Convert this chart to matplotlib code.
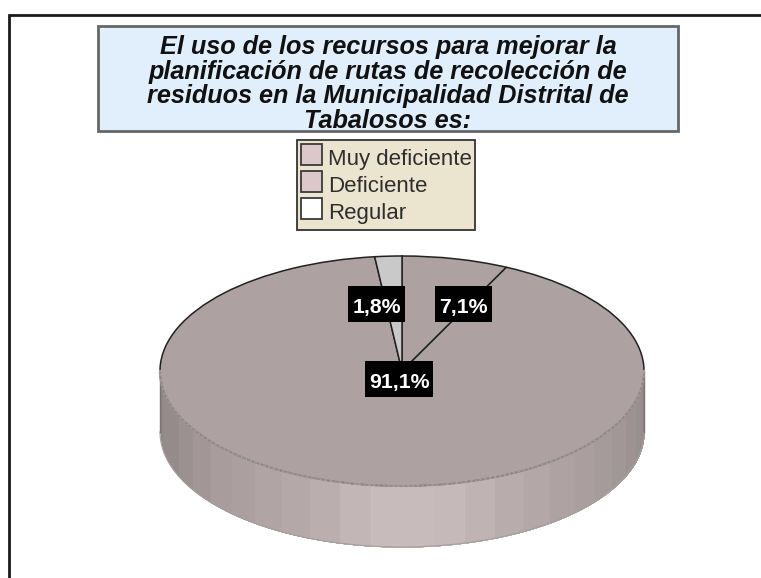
import matplotlib
matplotlib.use("Agg")
import matplotlib.pyplot as plt
from matplotlib.patches import Rectangle
import numpy as np

plt.rcParams['font.family'] = ['Liberation Sans', 'DejaVu Sans']

W, H = 761, 578

title_lines = [
    "El uso de los recursos para mejorar la",
    "planificación de rutas de recolección de",
    "residuos en la Municipalidad Distrital de",
    "Tabalosos es:",
]
categories = ["Muy deficiente", "Deficiente", "Regular"]
values = [7.1, 91.1, 1.8]
pct_labels = ["7,1%", "91,1%", "1,8%"]
slice_colors = ["#ada1a1", "#ada1a1", "#c9c9c9"]
legend_colors = ["#dcc8ca", "#dcc8ca", "#ffffff"]
# wall strips, left to right, lighter toward the front
wall_colors = [
    "#8e8484", "#968b8b", "#968b8b", "#9c9191", "#a29696", "#a89c9c",
    "#ac9f9f", "#b0a4a4", "#b5a8a8", "#bbaeae", "#c3b6b6", "#c8bbbb",
    "#c8bbbb", "#c6b9b9", "#c0b3b3", "#b9acac", "#b3a7a7", "#aea2a2",
    "#aa9e9e", "#a69b9b", "#a29797", "#9e9393", "#989090", "#908787",
]

# pie geometry in pixels
cx, cy, rx, ry, depth = 402, 371, 242, 115, 61

fig = plt.figure(figsize=(W / 100, H / 100), dpi=100)
ax = fig.add_axes([0, 0, 1, 1])

# side wall of the disc, each strip runs on under the next so no seams show
edges = np.radians(np.linspace(180, 360, len(wall_colors) + 1))
for i, col in enumerate(wall_colors):
    t = np.linspace(edges[i], edges[-1], 80)
    ax.fill_between(np.cos(t), np.sin(t) - depth / ry, np.sin(t), color=col, lw=0, zorder=1)
t = np.radians(np.linspace(180, 360, 200))
ax.plot(np.cos(t), np.sin(t) - depth / ry, color="#a3a0a0", lw=0.8, zorder=2)
ax.plot([-1, -1], [0, -depth / ry], color="#7a7272", lw=1, zorder=2)
ax.plot([1, 1], [0, -depth / ry], color="#7a7272", lw=1, zorder=2)

wedges, _ = ax.pie(values, colors=slice_colors, startangle=90, counterclock=False,
                   radius=1, wedgeprops=dict(edgecolor="#222222", linewidth=1.1, zorder=3))
ax.set_aspect("auto")
ax.set_xlim(-cx / rx, (W - cx) / rx)
ax.set_ylim((cy - H) / ry, cy / ry)

# front rim is much softer than the back one
ax.plot(np.cos(t), np.sin(t), color="#a89d9d", lw=1.6, zorder=4)
ax.plot(np.cos(t), np.sin(t), color="#8a7f7f", lw=0.7, ls=(0, (3, 2)), zorder=4)

# overlay in pixel coordinates
ov = fig.add_axes([0, 0, 1, 1], facecolor="none")
ov.set_xlim(0, W)
ov.set_ylim(H, 0)
ov.axis("off")

# outer frame, open at right and bottom
ov.plot([8.5, 8.5, W], [H, 14.5, 14.5], color="#1a1a1a", lw=2, solid_joinstyle="miter")

# title box
ov.add_patch(Rectangle((98, 26), 580, 105, fc="#e1eefb", ec="#666666", lw=2))
for i, line in enumerate(title_lines):
    ov.text(388, 47 + i * 24.6, line, ha="center", va="center", fontsize=18.2,
            fontweight="bold", fontstyle="italic", color="#111111")

# legend
ov.add_patch(Rectangle((297, 140), 178, 90, fc="#ebe5d0", ec="#333333", lw=1.3))
for i, cat in enumerate(categories):
    ov.add_patch(Rectangle((300.5, 143.5 + i * 27.3), 21, 21, fc=legend_colors[i], ec="#3a3a3a", lw=1.3))
    ov.text(328, 165 + i * 26.8, cat, ha="left", va="baseline", fontsize=16, color="#2e2e2e")

# percentage labels
box_pos = {"7,1%": (435, 286, 57, 36), "1,8%": (348, 286, 57, 36), "91,1%": (365, 361, 68, 36)}
for lab in pct_labels:
    x, y, w, h = box_pos[lab]
    ov.add_patch(Rectangle((x, y), w, h, fc="black", ec="none", zorder=5))
    ov.text(x + w / 2, y + 27, lab, ha="center", va="baseline", fontsize=15.3,
            fontweight="bold", color="white", zorder=6)

fig.savefig("out.png", dpi=100)
